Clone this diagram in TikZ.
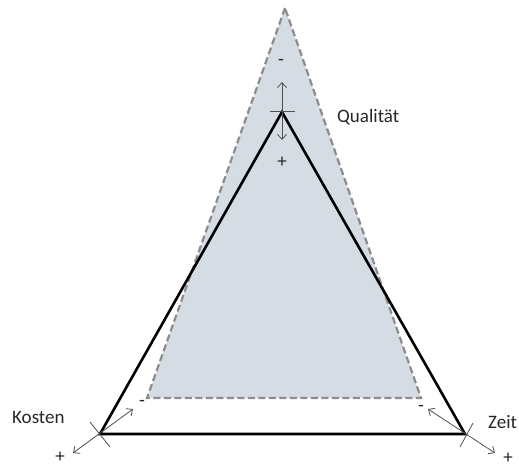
\documentclass[tikz,border=0pt]{standalone}
\usepackage{fontspec}
\setmainfont{Carlito}
\usetikzlibrary{arrows.meta}
\definecolor{fillgray}{HTML}{D6DCE4}
\definecolor{dashgray}{HTML}{8C8C8C}
\definecolor{arrowgray}{HTML}{505050}
\tikzstyle{area} = [fill=fillgray, draw=dashgray, line width=2.2pt, dash pattern=on 7pt off 3.5pt]
\tikzstyle{frame} = [draw=black, line width=2.6pt]
\tikzstyle{dir} = [{Straight Barb[length=5pt,width=9pt]}-{Straight Barb[length=5pt,width=9pt]}, draw=arrowgray, line width=0.8pt]
\tikzstyle{tick} = [draw=arrowgray, line width=0.8pt]
\tikzstyle{lbl} = [font=\fontsize{19}{22}\selectfont, inner sep=0pt, text=black!85]

\begin{document}
\begin{tikzpicture}[x=1pt, y=-1pt]
\useasboundingbox (0,0) rectangle (519,468);
% shaded area
\coordinate (q) at (285,8);
\coordinate (k) at (147,398);
\coordinate (z) at (421,398);
\draw[area] (q) -- (k) -- (z) -- cycle;
% triangle
\coordinate (Q) at (282,112);
\coordinate (K) at (100,434);
\coordinate (Z) at (465,434);
\draw[frame] (Q) -- (K) -- (Z) -- cycle;
% Qualitaet
\coordinate (qtop) at (282,82);
\coordinate (qbot) at (282,140);
\coordinate (qtl) at (270,111);
\coordinate (qtr) at (295,111);
\draw[dir] (qtop) -- (qbot);
\draw[tick] (qtl) -- (qtr);
\node[lbl] (qminus) at (281,62) {-};
\node[lbl] (qplus) at (282,162) {+};
\node[lbl, anchor=base west] (qualitaet) at (337,122) {Qualität};
% Kosten
\coordinate (kin) at (133,409);
\coordinate (kout) at (73,453);
\coordinate (ktl) at (90,422);
\coordinate (ktr) at (110,447);
\draw[dir] (kin) -- (kout);
\draw[tick] (ktl) -- (ktr);
\node[lbl] (kminus) at (142,403) {-};
\node[lbl] (kplus) at (60,457) {+};
\node[lbl, anchor=base west] (kosten) at (12,423) {Kosten};
% Zeit
\coordinate (zin) at (428,409);
\coordinate (zout) at (495,453);
\coordinate (ztl) at (473,423);
\coordinate (ztr) at (460,447);
\draw[dir] (zin) -- (zout);
\draw[tick] (ztl) -- (ztr);
\node[lbl] (zminus) at (421,408) {-};
\node[lbl] (zplus) at (508,458) {+};
\node[lbl, anchor=base west] (zeit) at (488,428) {Zeit};
\end{tikzpicture}
\end{document}
